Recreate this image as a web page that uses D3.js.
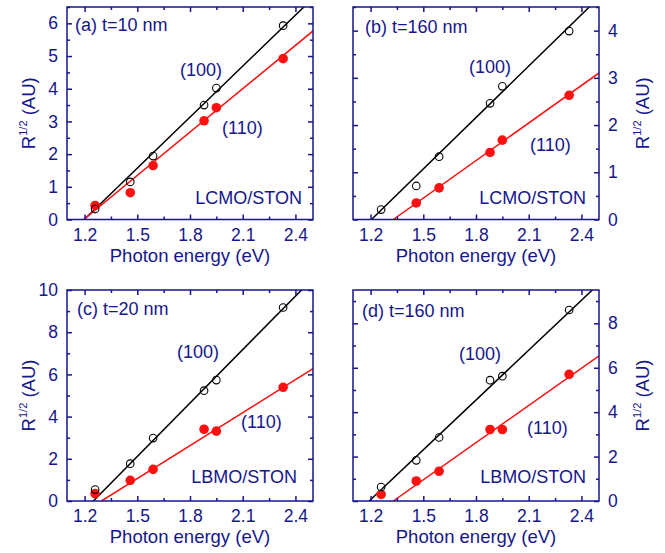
<!DOCTYPE html>
<html>
<head>
<meta charset="utf-8">
<script src="https://cdn.jsdelivr.net/npm/d3@7"></script>
<style>
  body { margin: 0; background: #fff; }
  svg { font-family: "Liberation Sans", Arial, sans-serif; }
</style>
</head>
<body>
<div id="chart"></div>
<script>
// photon energies of the laser lines (eV)
const energy = [1.26, 1.46, 1.59, 1.88, 1.95, 2.33];

// R^1/2 values, (100) open black, (110) filled red
const a100 = [0.32, 1.15, 1.94, 3.50, 4.02, 5.93];
const a110 = [0.43, 0.82, 1.65, 3.02, 3.42, 4.92];
const b100 = [0.21, 0.71, 1.33, 2.46, 2.82, 3.99];
const b110 = [null, 0.35, 0.67, 1.42, 1.68, 2.63];
const c100 = [0.54, 1.77, 2.98, 5.23, 5.73, 9.17];
const c110 = [0.35, 0.98, 1.50, 3.40, 3.31, 5.39];
const d100 = [0.63, 1.83, 2.86, 5.44, 5.62, 8.60];
const d110 = [0.30, 0.90, 1.34, 3.22, 3.22, 5.70];

// linear fits: x intercept and slope, panels a..d
const onset100 = [1.198, 1.205, 1.250, 1.192];
const slope100 = [5.20, 3.63, 8.44, 7.48];
const onset110 = [1.195, 1.329, 1.296, 1.329];
const slope110 = [4.42, 2.65, 5.21, 5.58];

const panelTitles = ["(a) t=10 nm", "(b) t=160 nm", "(c) t=20 nm", "(d) t=160 nm"];
const samples = ["LCMO/STON", "LCMO/STON", "LBMO/STON", "LBMO/STON"];
const yMax = [6.5, 4.5, 10, 9.5];
const yMajor = [1, 1, 2, 2];
const xTicks = [1.2, 1.5, 1.8, 2.1, 2.4];
const xMinor = [1.35, 1.65, 1.95, 2.25];

const navy = "#16168c";
const W = 665, H = 553;

const svg = d3.select('#chart').append('svg')
  .attr('width', W).attr('height', H);

// box positions of the four panels
const boxes = [
  {x0: 67, x1: 313, y0: 7, y1: 219.5, right: false},
  {x0: 353, x1: 599, y0: 7, y1: 219.5, right: true},
  {x0: 67, x1: 313, y0: 290, y1: 501, right: false},
  {x0: 353, x1: 599, y0: 290, y1: 501, right: true}
];

// annotation offsets from box top-left
const notes = [
  {t: [8, 24], n100: [113, 69], n110: [155, 127], s: [235, 197]},
  {t: [12, 26], n100: [116, 66], n110: [177, 144], s: [233, 197]},
  {t: [10, 25], n100: [110, 68], n110: [174, 138], s: [230, 193]},
  {t: [9, 27], n100: [106, 70], n110: [174, 144], s: [233, 193]}
];

const series = [[a100, a110], [b100, b110], [c100, c110], [d100, d110]];

boxes.forEach(function(b, i) {
  const x = d3.scaleLinear().domain([1.1, 2.5]).range([b.x0, b.x1]);
  const y = d3.scaleLinear().domain([0, yMax[i]]).range([b.y1, b.y0]);
  const g = svg.append('g');

  g.append('clipPath').attr('id', 'clip' + i)
    .append('rect')
    .attr('x', b.x0).attr('y', b.y0)
    .attr('width', b.x1 - b.x0).attr('height', b.y1 - b.y0);

  // fit lines
  const fits = [
    {x0: onset100[i], k: slope100[i], c: '#000'},
    {x0: onset110[i], k: slope110[i], c: '#ff1010'}
  ];
  fits.forEach(function(f) {
    const xe = 2.5;
    g.append('line')
      .attr('clip-path', 'url(#clip' + i + ')')
      .attr('x1', x(f.x0)).attr('y1', y(0))
      .attr('x2', x(xe)).attr('y2', y(f.k * (xe - f.x0)))
      .attr('stroke', f.c).attr('stroke-width', 1.5);
  });

  // (110) filled red
  g.selectAll('circle.r')
    .data(energy.map((e, j) => [e, series[i][1][j]]).filter(d => d[1] != null))
    .enter().append('circle')
    .attr('cx', d => x(d[0])).attr('cy', d => y(d[1]))
    .attr('r', 4.8).attr('fill', '#ff1010');

  // (100) open black
  g.selectAll('circle.k')
    .data(energy.map((e, j) => [e, series[i][0][j]]))
    .enter().append('circle')
    .attr('cx', d => x(d[0])).attr('cy', d => y(d[1]))
    .attr('r', 3.8).attr('fill', 'none')
    .attr('stroke', '#000').attr('stroke-width', 1.1);

  // axes, ticks inward on all sides
  const yMinor = d3.range(yMajor[i] / 2, yMax[i] + 1e-6, yMajor[i]);
  const yMaj = d3.range(0, yMax[i] + 1e-6, yMajor[i]);
  const axB = d3.axisBottom(x).tickValues(xTicks).tickSize(-5).tickFormat(d3.format('.1f')).tickPadding(9);
  const axBm = d3.axisBottom(x).tickValues(xMinor).tickSize(-3).tickFormat('');
  const axT = d3.axisTop(x).tickValues(xTicks).tickSize(-5).tickFormat('');
  const axTm = d3.axisTop(x).tickValues(xMinor).tickSize(-3).tickFormat('');
  const axL = d3.axisLeft(y).tickValues(yMaj).tickSize(-5).tickFormat(b.right ? '' : d3.format('d')).tickPadding(9);
  const axLm = d3.axisLeft(y).tickValues(yMinor).tickSize(-3).tickFormat('');
  const axR = d3.axisRight(y).tickValues(yMaj).tickSize(-5).tickFormat(b.right ? d3.format('d') : '').tickPadding(9);
  const axRm = d3.axisRight(y).tickValues(yMinor).tickSize(-3).tickFormat('');

  [[axB, 0, b.y1], [axBm, 0, b.y1], [axT, 0, b.y0], [axTm, 0, b.y0],
   [axL, b.x0, 0], [axLm, b.x0, 0], [axR, b.x1, 0], [axRm, b.x1, 0]].forEach(function(a) {
    const ag = g.append('g').attr('transform', 'translate(' + a[1] + ',' + a[2] + ')').call(a[0]);
    ag.selectAll('path.domain').remove();
    ag.selectAll('line').attr('stroke', navy).attr('stroke-width', 1.5);
    ag.selectAll('text').attr('fill', navy).attr('font-size', 17.5)
      .attr('font-family', '"Liberation Sans", Arial, sans-serif');
  });

  g.append('rect')
    .attr('x', b.x0).attr('y', b.y0)
    .attr('width', b.x1 - b.x0).attr('height', b.y1 - b.y0)
    .attr('fill', 'none').attr('stroke', navy).attr('stroke-width', 1.5);

  // axis titles
  g.append('text')
    .attr('x', (b.x0 + b.x1) / 2).attr('y', b.y1 + 42)
    .attr('text-anchor', 'middle').attr('fill', navy).attr('font-size', 18.5)
    .text('Photon energy (eV)');

  const yt = g.append('text')
    .attr('transform', 'translate(' + (b.right ? b.x1 + 50 : b.x0 - 32) + ',' + ((b.y0 + b.y1) / 2) + ') rotate(-90)')
    .attr('text-anchor', 'middle').attr('fill', navy).attr('font-size', 18.5);
  yt.append('tspan').text('R');
  yt.append('tspan').attr('font-size', 11).attr('dy', -8).text('1/2');
  yt.append('tspan').attr('dy', 8).text(' (AU)');

  // annotations
  const nt = notes[i];
  const txt = function(p, s) {
    g.append('text').attr('x', b.x0 + p[0]).attr('y', b.y0 + p[1])
      .attr('fill', navy).attr('font-size', 18).text(s);
  };
  txt(nt.t, panelTitles[i]);
  txt(nt.n100, '(100)');
  txt(nt.n110, '(110)');
  g.append('text').attr('x', b.x0 + nt.s[0]).attr('y', b.y0 + nt.s[1])
    .attr('text-anchor', 'end').attr('fill', navy).attr('font-size', 18).text(samples[i]);
});
</script>
</body>
</html>
